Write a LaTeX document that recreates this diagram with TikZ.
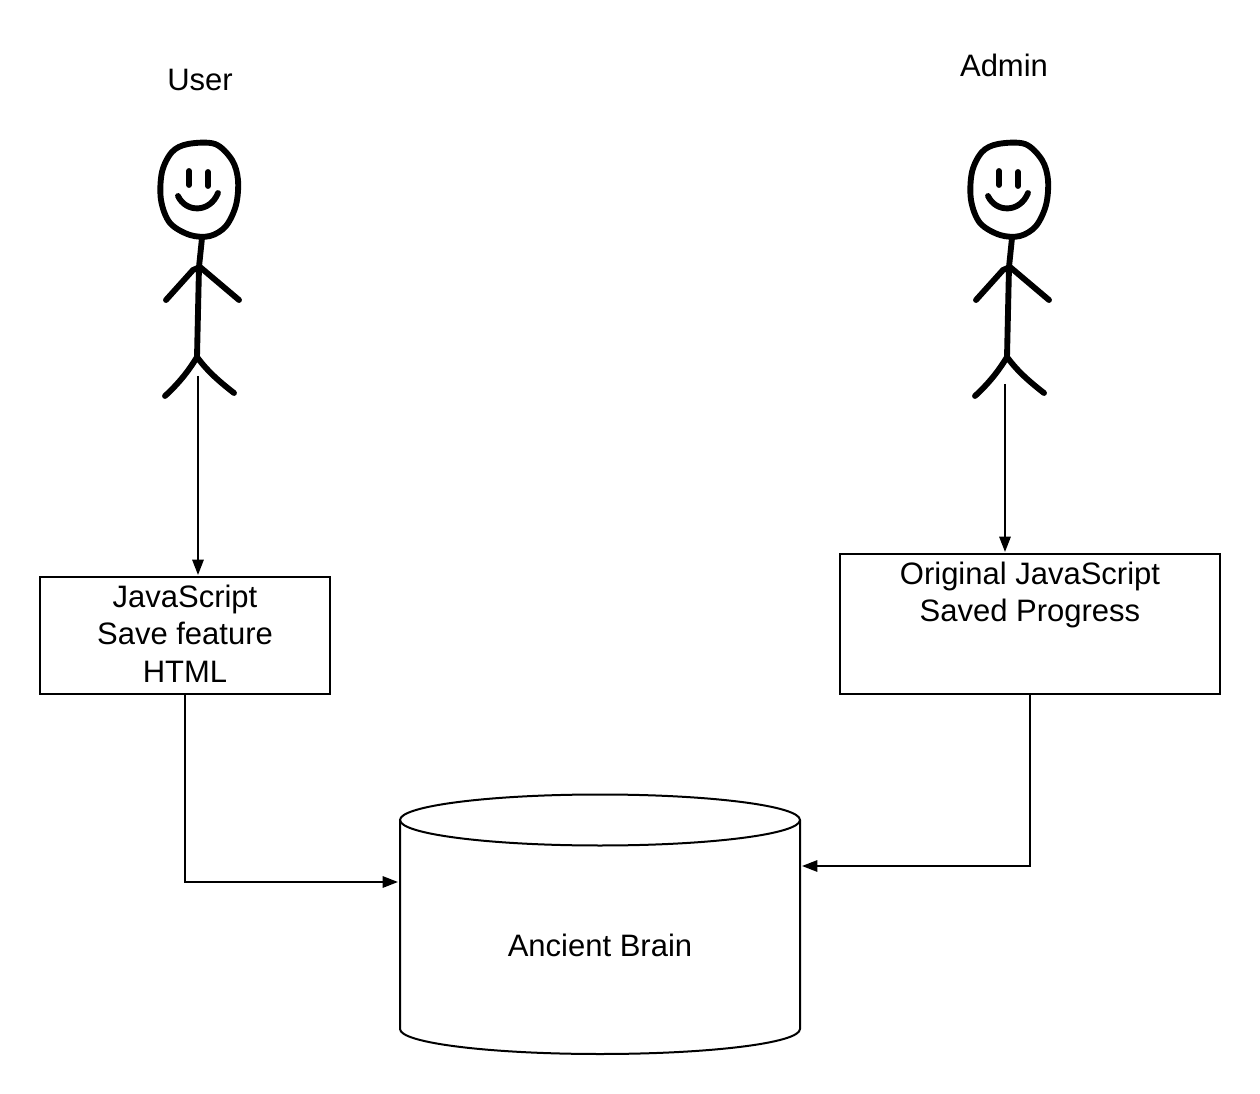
\documentclass[tikz,border=0pt]{standalone}
\usepackage{fontspec}
\setmainfont{Liberation Sans}
\usetikzlibrary{arrows.meta}
\tikzset{
  x=0.75pt, y=-0.75pt,
  thin line/.style={draw=black, line width=1.5pt},
  conn/.style={thin line, -{Triangle[length=11.5pt,width=8.5pt]}},
  ink/.style={draw=black, line width=4.4pt, line cap=round, line join=round},
  word/.style={font=\fontsize{23.25pt}{28pt}\selectfont, inner sep=0pt, align=center},
  boxed/.style={thin line, anchor=north west, inner sep=0pt, outer sep=0pt, font=\fontsize{23.25pt}{28pt}\selectfont},
  pics/stick/.style={code={
    \draw[ink] plot[smooth cycle, tension=0.55] coordinates {(188,144) (215,144) (232,160) (238,180) (236,205) (226,226) (210,236) (190,235) (170,223) (161,200) (162,172) (172,152)};
    \draw[ink] (189,171) -- (189,185);
    \draw[ink] (208,172) -- (208,186);
    \draw[ink] (178,196) .. controls (186,213) and (210,213) .. (218,193);
    \draw[ink] (202,238) -- (199,267) -- (197,357);
    \draw[ink] (166,300) -- (193,270) -- (200,267) -- (239,300);
    \draw[ink] (165,396) .. controls (178,384) and (188,372) .. (197,357) .. controls (208,372) and (220,382) .. (234,393);
  }}
}
\newcommand{\boxbody}[3]{\parbox[t][#2][t]{#1}{\centering\vspace*{3.25pt}#3}}
\begin{document}
\begin{tikzpicture}
\useasboundingbox (0,0) rectangle (1260,1094);
\node[word] (userlabel) at (200,80) {User};
\node[word] (adminlabel) at (1004,65) {Admin};
\pic at (0,0) {stick};
\pic at (810,0) {stick};
\coordinate (userfoot) at (198,376);
\coordinate (adminfoot) at (1005,384);
\node[boxed, draw] (jsbox) at (40,577) {\boxbody{217.5pt}{87.75pt}{\strut JavaScript\\\strut Save feature\\\strut HTML}};
\node[boxed, draw] (origbox) at (840,554) {\boxbody{285pt}{105pt}{\strut Original JavaScript\\\strut Saved Progress}};
% database cylinder
\draw[thin line] (400,820) -- (400,1029) .. controls (400,1043) and (490,1054) .. (600,1054) .. controls (710,1054) and (800,1043) .. (800,1029) -- (800,820);
\draw[thin line] (600,820) ellipse [x radius=200, y radius=25.5];
\node[word] (brain) at (600,945) {Ancient Brain};
\coordinate (dbleft) at (398,882);
\coordinate (dbright) at (802,866);
\draw[conn] (userfoot) -- (198,575);
\draw[conn] (adminfoot) -- (1005,552);
\draw[conn] (jsbox.south) |- (dbleft);
\draw[conn] (origbox.south) |- (dbright);
\end{tikzpicture}
\end{document}
